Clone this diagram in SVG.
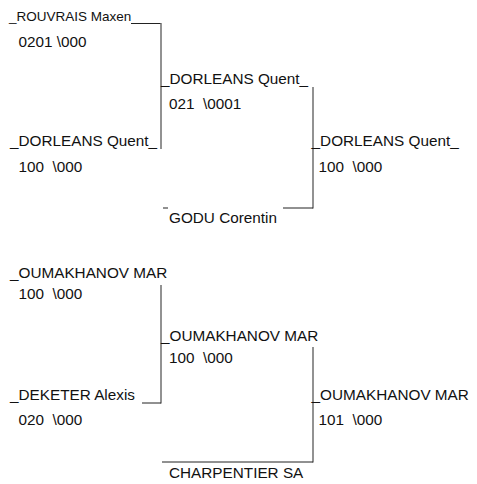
<svg xmlns="http://www.w3.org/2000/svg" width="477" height="484" viewBox="0 0 477 484">
<style>
text{font-family:"Liberation Sans",Arial,sans-serif;font-size:15.3px;fill:#111;white-space:pre}
.small{font-size:13.5px}
.v{stroke:#6e6e6e;stroke-width:1.5;fill:none}
.h{stroke:#222;stroke-width:1;fill:none}
</style>
<rect width="477" height="484" fill="#fff"/>
<g id="connectors">
<line class="h" x1="131" y1="23.5" x2="161" y2="23.5"/>
<line class="v" x1="161" y1="23" x2="161" y2="149"/>
<line class="v" x1="313" y1="87" x2="313" y2="208.5"/>
<line class="h" x1="163" y1="208" x2="168" y2="208"/>
<line class="h" x1="283" y1="208" x2="313" y2="208"/>
<line class="v" x1="161" y1="285" x2="161" y2="403.5"/>
<line class="h" x1="142" y1="403" x2="161" y2="403"/>
<line class="v" x1="313" y1="347" x2="313" y2="462.5"/>
<line class="h" x1="162" y1="462" x2="313" y2="462"/>
</g>
<g id="m1-p1"><text class="small" x="9" y="21" xml:space="preserve">_ROUVRAIS Maxen</text><text x="18.5" y="47" xml:space="preserve">0201 \000</text></g>
<g id="m1-p2"><text x="10" y="146" xml:space="preserve">_DORLEANS Quent_</text><text x="18.5" y="172" xml:space="preserve">100  \000</text></g>
<g id="m1-w"><text x="161" y="84" xml:space="preserve">_DORLEANS Quent_</text><text x="169" y="109" xml:space="preserve">021  \0001</text></g>
<g id="m1-l"><text x="169" y="223" xml:space="preserve">GODU Corentin</text></g>
<g id="m1-f"><text x="311.6" y="146" xml:space="preserve">_DORLEANS Quent_</text><text x="318.5" y="172" xml:space="preserve">100  \000</text></g>
<g id="m2-p1"><text x="10" y="278" xml:space="preserve">_OUMAKHANOV MAR</text><text x="18.5" y="299" xml:space="preserve">100  \000</text></g>
<g id="m2-p2"><text x="10" y="400" xml:space="preserve">_DEKETER Alexis</text><text x="18.5" y="425" xml:space="preserve">020  \000</text></g>
<g id="m2-w"><text x="161" y="341" xml:space="preserve">_OUMAKHANOV MAR</text><text x="169" y="363" xml:space="preserve">100  \000</text></g>
<g id="m2-l"><text x="169" y="478" xml:space="preserve">CHARPENTIER SA</text></g>
<g id="m2-f"><text x="311.6" y="400" xml:space="preserve">_OUMAKHANOV MAR</text><text x="318.5" y="425" xml:space="preserve">101  \000</text></g>
</svg>
